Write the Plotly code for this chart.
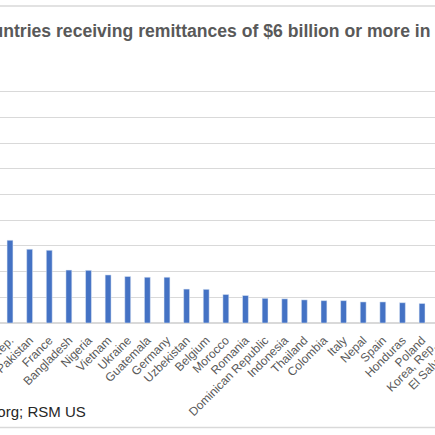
import plotly.graph_objects as go

# countries visible in the cropped view, values in US$ billions
countries = [
    "Egypt, Arab Rep.", "Pakistan", "France", "Bangladesh", "Nigeria", "Vietnam",
    "Ukraine", "Guatemala", "Germany", "Uzbekistan", "Belgium", "Morocco",
    "Romania", "Dominican Republic", "Indonesia", "Thailand", "Colombia", "Italy",
    "Nepal", "Spain", "Honduras", "Poland",
]
remittances = [
    32.2, 28.7, 28.3, 20.6, 20.5, 18.7,
    18.1, 17.8, 17.8, 13.2, 13.1, 11.1,
    10.7, 9.6, 9.4, 9.0, 8.7, 8.7,
    8.2, 8.2, 7.9, 7.6,
]
# categories whose labels peek in at the right edge (bars are out of view)
cut_labels = ["Korea, Rep.", "El Salvador"]

TITLE = "Countries receiving remittances of $6 billion or more in 2021"
SOURCE = "Sources: KNOMAD.org; RSM US"

W, H = 435, 435
TOP, BOTTOM = 66, 322.7  # plot area in pixels
X0, X1 = -0.51, 21.66     # visible category window
FONT = "Liberation Sans"
GRID = "#d9d9d9"
GREY = "#595959"


def py(pixel_y):
    # pixel row -> paper y
    return (BOTTOM - pixel_y) / (BOTTOM - TOP)


fig = go.Figure()
fig.add_trace(go.Bar(
    x=countries,
    y=remittances,
    marker=dict(color="#4472C4"),
))

annotations = [
    dict(text="<b>" + TITLE + "</b>", xref="paper", yref="paper", x=-33 / W, y=py(31.5),
         xanchor="left", yanchor="middle", showarrow=False,
         font=dict(family=FONT, size=17.6, color=GREY)),
    dict(text=SOURCE, xref="paper", yref="paper", x=88 / W, y=py(411.5),
         xanchor="right", yanchor="middle", showarrow=False,
         font=dict(family=FONT, size=15, color="#262626")),
]
for k, label in enumerate(cut_labels):
    idx = len(countries) + k
    annotations.append(dict(
        text=label, xref="paper", yref="paper",
        x=(idx - X0) / (X1 - X0), y=py(336),
        xanchor="right", yanchor="top", textangle=-45, showarrow=False,
        font=dict(family=FONT, size=12, color=GREY),
    ))

fig.update_layout(
    width=W,
    height=H,
    margin=dict(l=0, r=0, t=TOP, b=H - BOTTOM, autoexpand=False),
    plot_bgcolor="white",
    paper_bgcolor="white",
    bargap=0.7,
    showlegend=False,
    annotations=annotations,
    shapes=[
        dict(type="line", xref="paper", yref="paper", x0=0, x1=1, y0=py(6), y1=py(6),
             line=dict(color=GRID, width=1.5)),
        dict(type="line", xref="paper", yref="paper", x0=0, x1=1, y0=py(427), y1=py(427),
             line=dict(color=GRID, width=1.5)),
    ],
)
fig.update_xaxes(
    type="category",
    range=[X0, X1],
    tickangle=-45,
    ticklabelstandoff=7,
    tickfont=dict(family=FONT, size=12, color=GREY),
    gridcolor="white",
)
fig.update_yaxes(
    range=[0, 100],
    dtick=10,
    showticklabels=False,
    gridcolor=GRID,
    zeroline=True,
    zerolinecolor=GRID,
    zerolinewidth=1.5,
)

# the page's default body margin would shift the chart by 8px
fig.write_html(
    "out.html",
    config={"displayModeBar": False},
    post_script="document.body.style.margin = '0';",
)
